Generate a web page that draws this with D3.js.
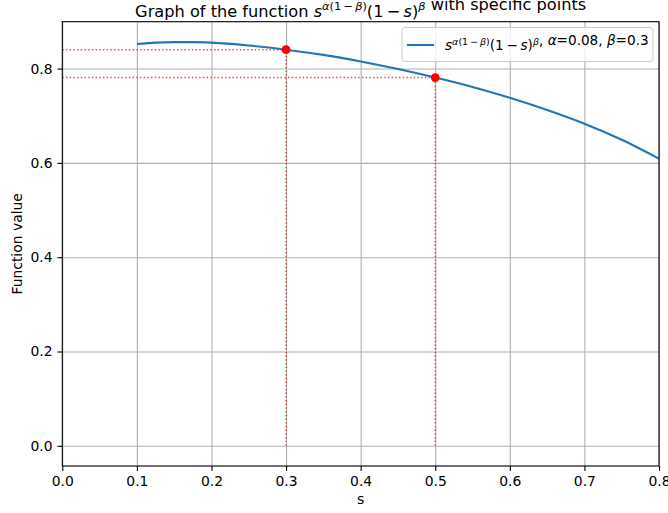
<!DOCTYPE html>
<html>
<head>
<meta charset="utf-8">
<script src="https://cdn.jsdelivr.net/npm/d3@7"></script>
<style>
  body { margin: 0; background: #fff; }
  svg { display: block; font-family: "DejaVu Sans", sans-serif; }
</style>
</head>
<body>
<div id="chart"></div>
<script>
// curve values
var sValues = [0.1, 0.125, 0.15, 0.175, 0.2, 0.25, 0.3, 0.35, 0.4, 0.45, 0.5, 0.55, 0.6, 0.65, 0.7, 0.75, 0.8];
var fValues = [0.852, 0.855, 0.856, 0.856, 0.855, 0.849, 0.840, 0.829, 0.815, 0.799, 0.781, 0.761, 0.738, 0.712, 0.683, 0.649, 0.609];

// the two marked points
var pointS = [0.3, 0.5];
var pointF = [0.840, 0.781];

var xTicks = [0, 0.1, 0.2, 0.3, 0.4, 0.5, 0.6, 0.7, 0.8];
var yTicks = [0, 0.2, 0.4, 0.6, 0.8];

var width = 668, height = 513;
var mLeft = 62.3, mRight = 659, mTop = 21.7, mBottom = 466;

var svg = d3.select("#chart")
    .append("svg")
    .attr("width", width)
    .attr("height", height);

var x = d3.scaleLinear().domain([0, 0.8]).range([mLeft, mRight]);
var y = d3.scaleLinear().domain([-0.0428, 0.8994]).range([mBottom, mTop]);

// grid
svg.append("g")
    .attr("transform", `translate(0, ${mBottom})`)
    .call(d3.axisBottom(x).tickValues(xTicks).tickSize(-(mBottom - mTop)).tickFormat(""))
    .call(g => g.select(".domain").remove())
    .selectAll("line").attr("stroke", "#b0b0b0").attr("stroke-width", 1.1);

svg.append("g")
    .attr("transform", `translate(${mLeft}, 0)`)
    .call(d3.axisLeft(y).tickValues(yTicks).tickSize(-(mRight - mLeft)).tickFormat(""))
    .call(g => g.select(".domain").remove())
    .selectAll("line").attr("stroke", "#b0b0b0").attr("stroke-width", 1.1);

// dotted guide lines
var guides = svg.append("g");
pointS.forEach(function (s, i) {
    guides.append("line")
        .attr("x1", x(0)).attr("x2", x(s))
        .attr("y1", y(pointF[i])).attr("y2", y(pointF[i]))
        .attr("stroke", "red").attr("stroke-opacity", 0.75)
        .attr("stroke-width", 1.4).attr("stroke-dasharray", "1.4,2.3");
    guides.append("line")
        .attr("x1", x(s)).attr("x2", x(s))
        .attr("y1", y(0)).attr("y2", y(pointF[i]))
        .attr("stroke", "red").attr("stroke-opacity", 0.75)
        .attr("stroke-width", 1.4).attr("stroke-dasharray", "1.4,2.3");
});

// curve
var line = d3.line()
    .x(function (d, i) { return x(sValues[i]); })
    .y(function (d) { return y(d); })
    .curve(d3.curveMonotoneX);

svg.append("path")
    .datum(fValues)
    .attr("fill", "none")
    .attr("stroke", "#1f77b4")
    .attr("stroke-width", 2.1)
    .attr("d", line);

// points
svg.selectAll(".pt")
    .data(pointS)
    .enter()
    .append("circle")
    .attr("cx", function (d) { return x(d); })
    .attr("cy", function (d, i) { return y(pointF[i]); })
    .attr("r", 4.4)
    .attr("fill", "red");

// axes
var xAxis = svg.append("g")
    .attr("transform", `translate(0, ${mBottom})`)
    .call(d3.axisBottom(x).tickValues(xTicks).tickSize(4.9).tickPadding(4.9).tickFormat(d3.format(".1f")));
var yAxis = svg.append("g")
    .attr("transform", `translate(${mLeft}, 0)`)
    .call(d3.axisLeft(y).tickValues(yTicks).tickSize(4.9).tickPadding(4.9).tickFormat(d3.format(".1f")));
[xAxis, yAxis].forEach(function (g) {
    g.select(".domain").remove();
    g.selectAll("text").attr("font-family", "DejaVu Sans").attr("font-size", 13.9).attr("fill", "#000");
    g.selectAll("line").attr("stroke", "#000").attr("stroke-width", 1.1);
});

// frame
svg.append("rect")
    .attr("x", mLeft).attr("y", mTop)
    .attr("width", mRight - mLeft).attr("height", mBottom - mTop)
    .attr("fill", "none").attr("stroke", "#000").attr("stroke-width", 1.1);

// labels
svg.append("text")
    .attr("x", (mLeft + mRight) / 2).attr("y", 504)
    .attr("text-anchor", "middle").attr("font-size", 13.9)
    .text("s");

svg.append("text")
    .attr("transform", `translate(22, ${(mTop + mBottom) / 2}) rotate(-90)`)
    .attr("text-anchor", "middle").attr("font-size", 13.9)
    .text("Function value");

// math text helper: s^{α(1−β)}(1−s)^β
function mathExpr(t, size) {
    var sup = size * 0.7, up = size * 0.38;
    t.append("tspan").attr("font-style", "italic").text("s");
    t.append("tspan").attr("font-size", sup).attr("dy", -up).attr("font-style", "italic").text("α");
    t.append("tspan").attr("font-size", sup).text("(1\u2009−\u2009");
    t.append("tspan").attr("font-size", sup).attr("font-style", "italic").text("β");
    t.append("tspan").attr("font-size", sup).text(")");
    t.append("tspan").attr("dy", up).text("(1\u2009−\u2009");
    t.append("tspan").attr("font-style", "italic").text("s");
    t.append("tspan").text(")");
    t.append("tspan").attr("font-size", sup).attr("dy", -up).attr("font-style", "italic").text("β");
    t.append("tspan").attr("dy", up).text("");
}

// title
var title = svg.append("text")
    .attr("x", (mLeft + mRight) / 2).attr("y", 16.5)
    .attr("text-anchor", "middle").attr("font-size", 16.2);
title.append("tspan").text("Graph of the function ");
mathExpr(title, 16.2);
title.append("tspan").text(" with specific points");

// legend
var lg = svg.append("g");
lg.append("rect")
    .attr("x", 402).attr("y", 27.5).attr("width", 251).attr("height", 34)
    .attr("rx", 3)
    .attr("fill", "#fff").attr("fill-opacity", 0.8)
    .attr("stroke", "#cccccc").attr("stroke-width", 1);
lg.append("line")
    .attr("x1", 407).attr("x2", 434).attr("y1", 45).attr("y2", 45)
    .attr("stroke", "#1f77b4").attr("stroke-width", 2.1);
var lt = lg.append("text")
    .attr("x", 445).attr("y", 50).attr("font-size", 13.6);
mathExpr(lt, 13.6);
lt.append("tspan").text(", ");
lt.append("tspan").attr("font-style", "italic").text("α");
lt.append("tspan").text("=0.08, ");
lt.append("tspan").attr("font-style", "italic").text("β");
lt.append("tspan").text("=0.3");
</script>
</body>
</html>
